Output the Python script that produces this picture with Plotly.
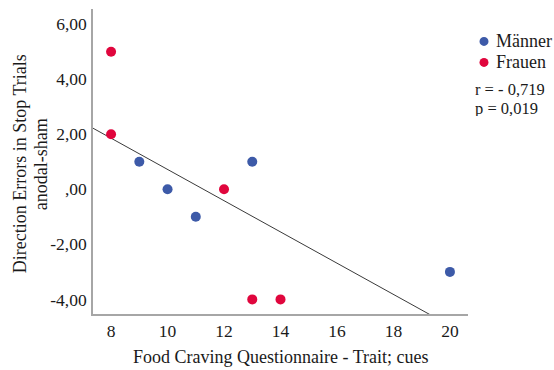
import numpy as np
import plotly.graph_objects as go

# FCQ-T cue scores and direction-error differences (anodal - sham)
maenner_x = [9, 10, 11, 13, 20]
maenner_y = [1, 0, -1, 1, -3]
frauen_x = [8, 8, 12, 13, 14]
frauen_y = [5, 2, 0, -4, -4]

x_ticks = [8, 10, 12, 14, 16, 18, 20]
y_ticks = [6, 4, 2, 0, -2, -4]
y_ticklabels = ["6,00", "4,00", "2,00", ",00", "-2,00", "-4,00"]

x_range = [7.36, 20.64]
y_range = [-4.53, 6.55]

BLUE = "#3d5aa8"
RED = "#e0063d"
INK = "#1a1a1a"
FONT = "Liberation Serif"

# plot-area geometry in pixels, used to place the side texts
W, H = 554, 370
L, R, T, B = 93, 86, 8.5, 56
PW, PH = W - L - R, H - T - B


def px_x(px):
    return (px - L) / PW


def px_y(py):
    return 1 - (py - T) / PH


# least-squares fit over all participants
all_x = np.array(maenner_x + frauen_x, dtype=float)
all_y = np.array(maenner_y + frauen_y, dtype=float)
slope, intercept = np.polyfit(all_x, all_y, 1)
fit_x = np.array(x_range)
fit_y = intercept + slope * fit_x

fig = go.Figure()
fig.add_trace(go.Scatter(
    x=fit_x, y=fit_y, mode="lines",
    line=dict(color="#3a3a3a", width=1),
    showlegend=False, hoverinfo="skip",
))
fig.add_trace(go.Scatter(
    x=maenner_x, y=maenner_y, mode="markers", name="Männer",
    marker=dict(color=BLUE, size=10, line=dict(width=0)), showlegend=False,
))
fig.add_trace(go.Scatter(
    x=frauen_x, y=frauen_y, mode="markers", name="Frauen",
    marker=dict(color=RED, size=10, line=dict(width=0)), showlegend=False,
))

legend_items = [("Männer", BLUE, 41), ("Frauen", RED, 62)]
shapes = []
annotations = []
for label, color, cy in legend_items:
    shapes.append(dict(
        type="circle", xref="paper", yref="paper",
        x0=px_x(484 - 4.5), x1=px_x(484 + 4.5),
        y0=px_y(cy + 4.5), y1=px_y(cy - 4.5),
        fillcolor=color, line=dict(width=0),
    ))
    annotations.append(dict(
        text=label, xref="paper", yref="paper", x=px_x(494), y=px_y(cy),
        xanchor="left", yanchor="middle", showarrow=False,
        font=dict(family=FONT, size=18, color=INK),
    ))

# correlation statistics, set with tight line spacing
for text, cy in [("r = - 0,719", 89), ("p = 0,019", 108)]:
    annotations.append(dict(
        text=text, xref="paper", yref="paper", x=px_x(474), y=px_y(cy),
        xanchor="left", yanchor="middle", showarrow=False,
        height=16, valign="middle", borderpad=0,
        font=dict(family=FONT, size=16.5, color=INK),
    ))

# axis titles
annotations.append(dict(
    text="Food Craving Questionnaire - Trait; cues", xref="paper", yref="paper",
    x=0.5, y=px_y(357), xanchor="center", yanchor="middle", showarrow=False,
    font=dict(family=FONT, size=18, color=INK),
))
for text, cx in [("Direction Errors in Stop Trials", 20), ("anodal-sham", 41)]:
    annotations.append(dict(
        text=text, xref="paper", yref="paper", x=px_x(cx), y=px_y(164),
        xanchor="center", yanchor="middle", textangle=-90, showarrow=False,
        font=dict(family=FONT, size=18, color=INK),
    ))

fig.update_layout(
    width=W, height=H,
    margin=dict(l=L, r=R, t=T, b=B),
    paper_bgcolor="white", plot_bgcolor="white",
    font=dict(family=FONT, size=17, color=INK),
    showlegend=False,
    xaxis=dict(
        range=x_range, tickvals=x_ticks, ticks="",
        showgrid=False, zeroline=False,
        showline=True, linecolor="#a6a6a6", linewidth=1.5,
        tickfont=dict(family=FONT, size=17.5, color=INK),
    ),
    yaxis=dict(
        range=y_range, tickvals=y_ticks, ticktext=y_ticklabels, ticks="",
        showgrid=False, zeroline=False,
        showline=True, linecolor="#a6a6a6", linewidth=1.5,
        tickfont=dict(family=FONT, size=17.5, color=INK),
        ticklabelstandoff=1,
    ),
    shapes=shapes,
    annotations=annotations,
)

fig.write_html("out.html")
